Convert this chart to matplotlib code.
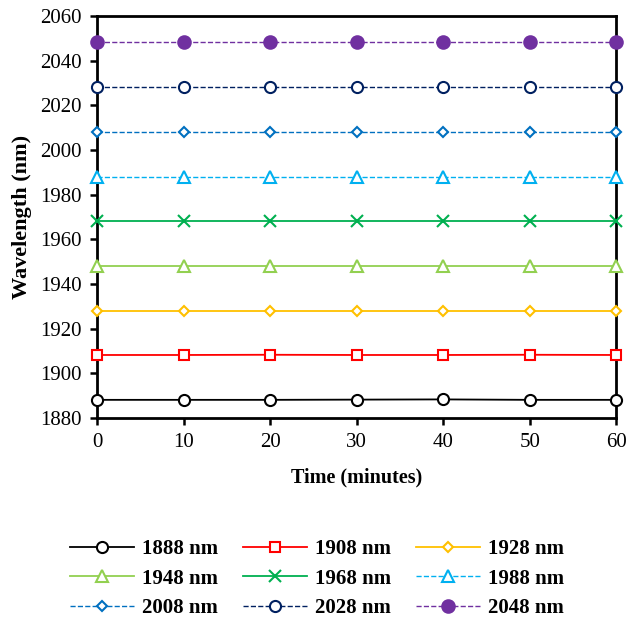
import matplotlib.pyplot as plt
import numpy as np

plt.rcParams['font.family'] = ['Liberation Serif', 'DejaVu Serif']

time = [0, 10, 20, 30, 40, 50, 60]
labels = ['1888 nm', '1908 nm', '1928 nm', '1948 nm', '1968 nm',
          '1988 nm', '2008 nm', '2028 nm', '2048 nm']
wl_1888 = [1888.1, 1888.1, 1888.1, 1888.2, 1888.3, 1888.1, 1888.1]
wl_1908 = [1908.2, 1908.2, 1908.3, 1908.2, 1908.2, 1908.3, 1908.2]
wl_1928 = [1928.0, 1928.0, 1928.0, 1928.0, 1928.0, 1928.0, 1928.0]
wl_1948 = [1948.0, 1948.0, 1948.0, 1948.0, 1948.0, 1948.0, 1948.0]
wl_1968 = [1968.1, 1968.1, 1968.1, 1968.1, 1968.1, 1968.1, 1968.1]
wl_1988 = [1988.0, 1988.0, 1988.0, 1988.0, 1988.0, 1988.0, 1988.0]
wl_2008 = [2008.2, 2008.2, 2008.2, 2008.2, 2008.2, 2008.2, 2008.2]
wl_2028 = [2028.1, 2028.1, 2028.1, 2028.1, 2028.1, 2028.1, 2028.1]
wl_2048 = [2048.2, 2048.2, 2048.2, 2048.2, 2048.2, 2048.2, 2048.2]
series = [wl_1888, wl_1908, wl_1928, wl_1948, wl_1968,
          wl_1988, wl_2008, wl_2028, wl_2048]

colors = ['#000000', '#FF0000', '#FFC000', '#92D050', '#00B050',
          '#00B0F0', '#0070C0', '#002060', '#7030A0']
markers = ['o', 's', 'D', '^', 'x', '^', 'D', 'o', 'o']
sizes = [8, 7, 5.5, 8, 8, 8, 5.5, 8, 9]
styles = ['-', '-', '-', '-', '-', '--', '--', '--', '--']

fig = plt.figure(figsize=(6.38, 6.21), dpi=100)
ax = fig.add_axes([0.152, 0.327, 0.814, 0.647])

handles = []
for y, c, m, s, ls, lab in zip(series, colors, markers, sizes, styles, labels):
    face = c if lab == '2048 nm' or m == 'x' else 'white'
    h, = ax.plot(time, y, linestyle=ls, color=c, lw=1.3 if ls == '-' else 1.0,
                 marker=m, markersize=s, markerfacecolor=face,
                 markeredgecolor=c, markeredgewidth=1.5, label=lab,
                 clip_on=False, zorder=3)
    handles.append(h)

ax.set_xlim(0, 60)
ax.set_ylim(1880, 2060)
ax.set_xticks(np.arange(0, 61, 10))
ax.set_yticks(np.arange(1880, 2061, 20))
ax.tick_params(direction='out', labelsize=15, width=1.8, length=5, pad=6)
for sp in ax.spines.values():
    sp.set_linewidth(2)
ax.set_xlabel('Time (minutes)', fontsize=14.5, fontweight='bold', labelpad=11)
ax.set_ylabel('Wavelength (nm)', fontsize=16, fontweight='bold', labelpad=6)

# row-major legend order
order = [0, 3, 6, 1, 4, 7, 2, 5, 8]
fig.legend([handles[i] for i in order], [labels[i] for i in order],
           loc='upper center', bbox_to_anchor=(0.497, 0.145), ncol=3,
           frameon=False, prop={'size': 15, 'weight': 'bold'},
           handlelength=3.1, handletextpad=0.4, columnspacing=1.15,
           labelspacing=0.45, borderaxespad=0)

fig.savefig('out.png', dpi=100)
